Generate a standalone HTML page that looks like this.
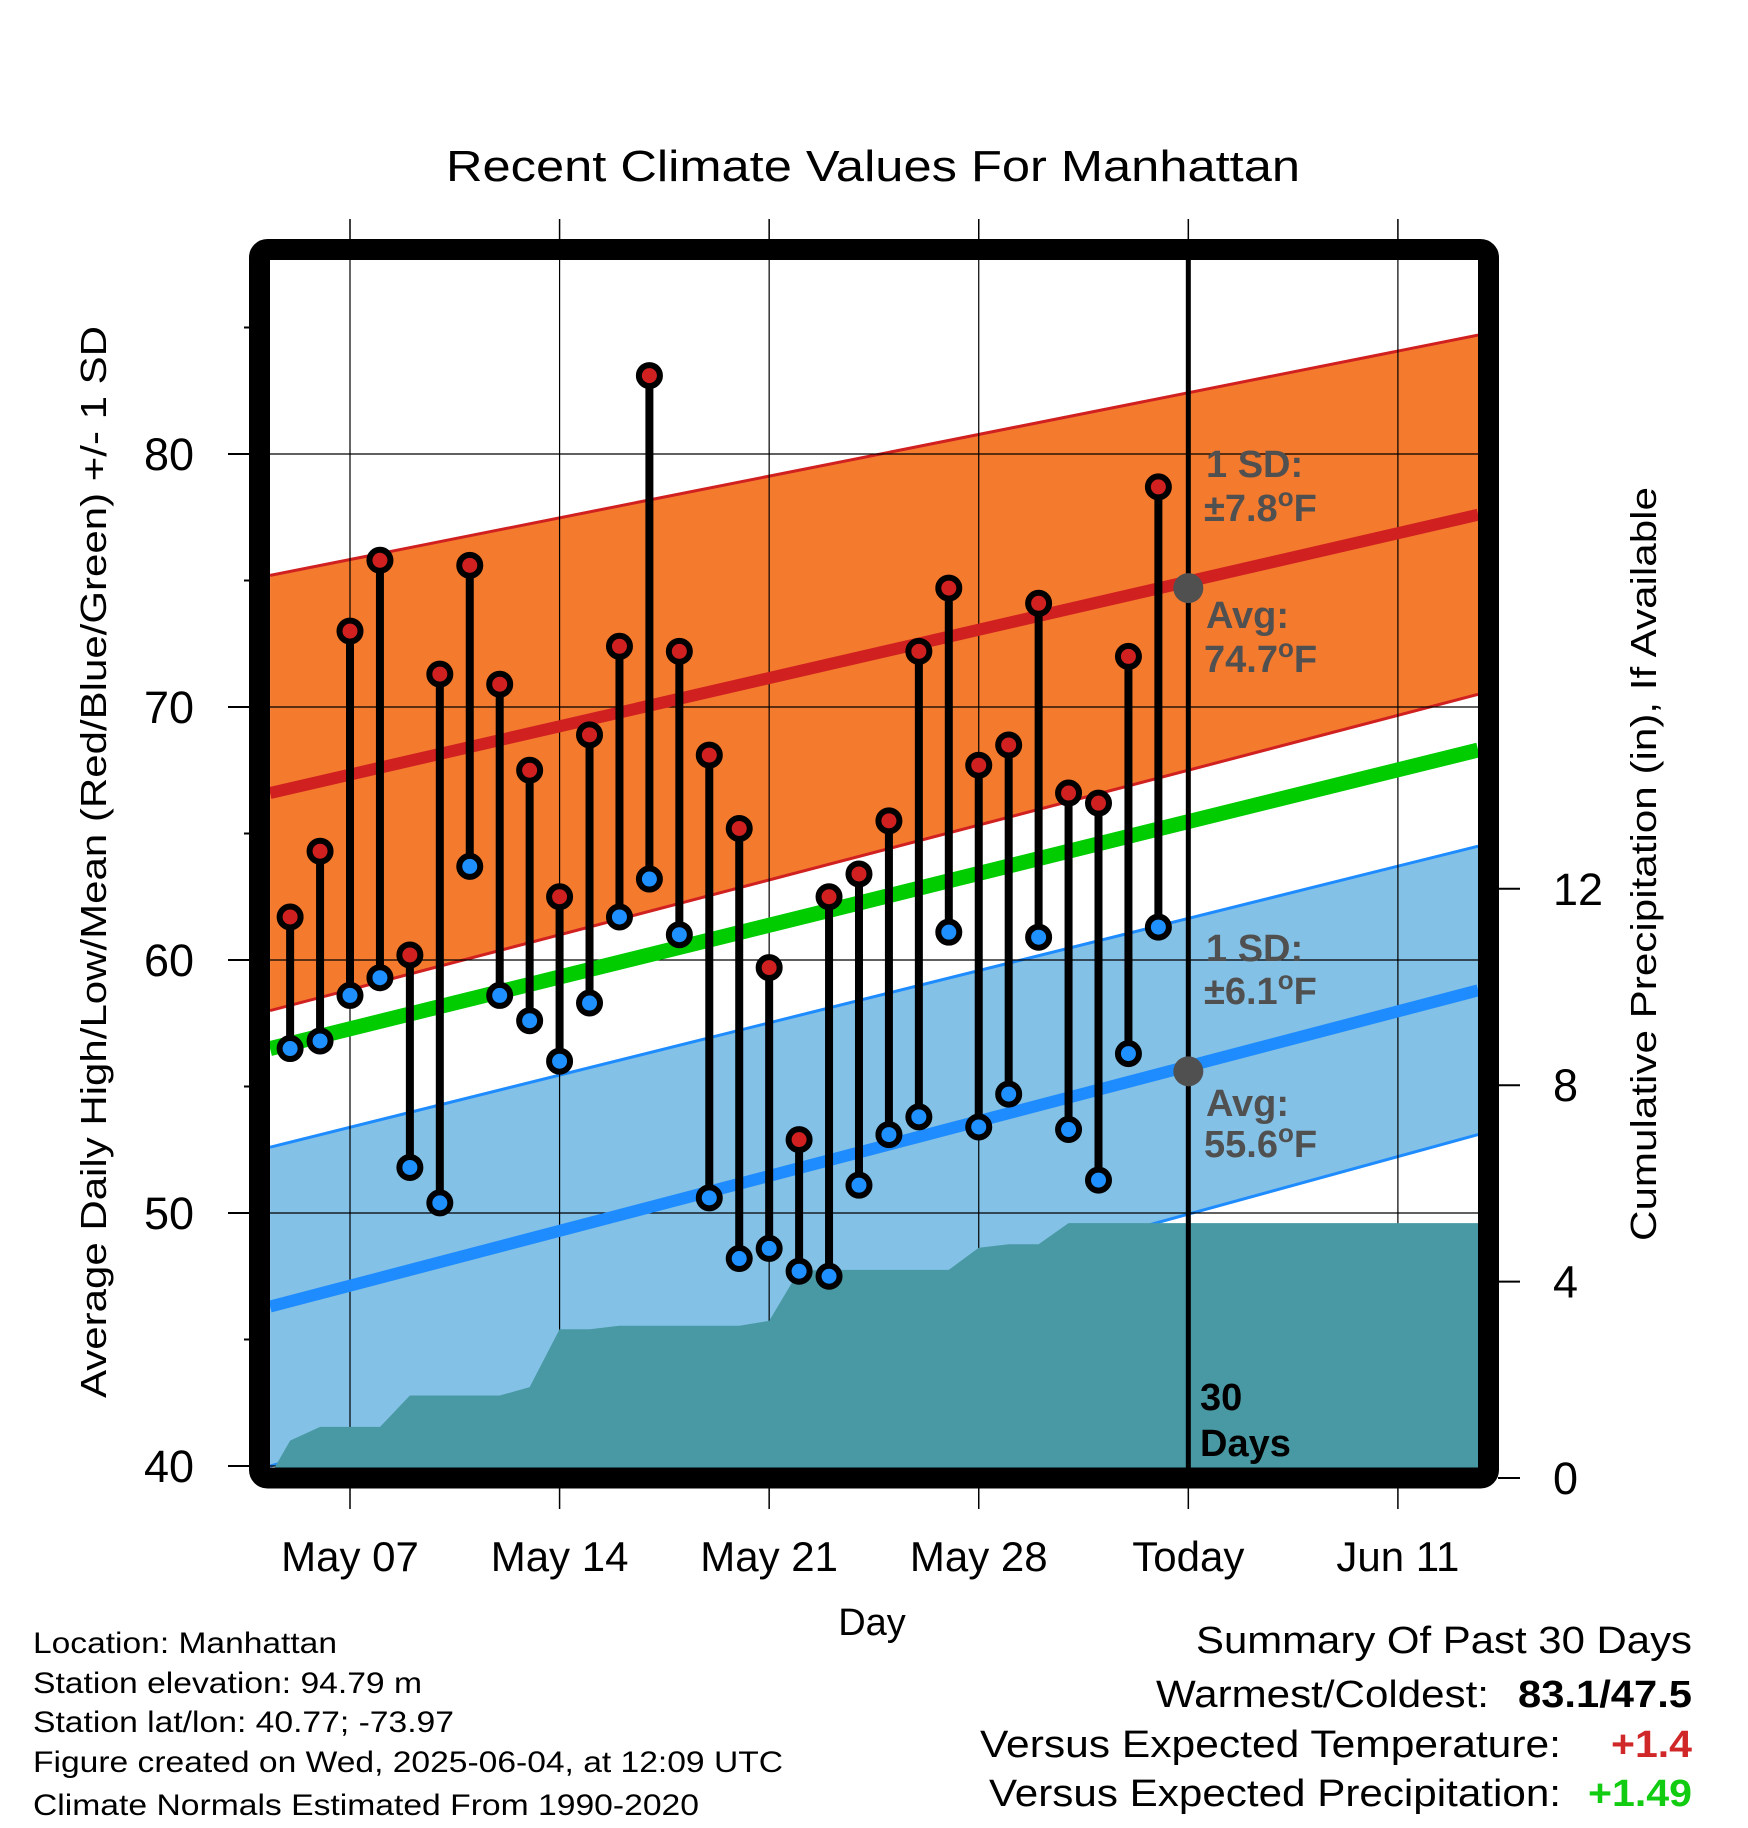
<!DOCTYPE html>
<html><head><meta charset="utf-8"><style>
html,body{margin:0;padding:0;background:#fff;}
svg{display:block;font-family:"Liberation Sans",Arial,sans-serif;}
</style></head><body>
<svg id="chart" width="1748" height="1828" viewBox="0 0 1748 1828" xmlns="http://www.w3.org/2000/svg">
<defs><clipPath id="plotclip"><rect x="270" y="260" width="1208" height="1208"/></clipPath></defs>
<g id="plot" clip-path="url(#plotclip)"></g>
<g id="overlay"></g>
<text x="873" y="181" font-size="44" text-anchor="middle" textLength="854" lengthAdjust="spacingAndGlyphs">Recent Climate Values For Manhattan</text>
<text transform="translate(106,862) rotate(-90)" font-size="36" text-anchor="middle" textLength="1072" lengthAdjust="spacingAndGlyphs">Average Daily High/Low/Mean (Red/Blue/Green) +/- 1 SD</text>
<text transform="translate(1656,864) rotate(-90)" font-size="36" text-anchor="middle" textLength="754" lengthAdjust="spacingAndGlyphs">Cumulative Precipitation (in), If Available</text>
<text x="872" y="1635" font-size="38" text-anchor="middle">Day</text>
<g font-size="30">
<text x="33" y="1653" textLength="304" lengthAdjust="spacingAndGlyphs">Location: Manhattan</text>
<text x="33" y="1693" textLength="389" lengthAdjust="spacingAndGlyphs">Station elevation: 94.79 m</text>
<text x="33" y="1732" textLength="421" lengthAdjust="spacingAndGlyphs">Station lat/lon: 40.77; -73.97</text>
<text x="33" y="1772" textLength="750" lengthAdjust="spacingAndGlyphs">Figure created on Wed, 2025-06-04, at 12:09 UTC</text>
<text x="33" y="1815" textLength="666" lengthAdjust="spacingAndGlyphs">Climate Normals Estimated From 1990-2020</text>
</g>
<g font-size="38">
<text x="1196" y="1653" textLength="496" lengthAdjust="spacingAndGlyphs">Summary Of Past 30 Days</text>
<text x="1156" y="1707" textLength="333" lengthAdjust="spacingAndGlyphs">Warmest/Coldest:</text>
<text x="1518" y="1707" font-weight="bold" textLength="174" lengthAdjust="spacingAndGlyphs">83.1/47.5</text>
<text x="980" y="1757" textLength="581" lengthAdjust="spacingAndGlyphs">Versus Expected Temperature:</text>
<text x="1611" y="1757" font-weight="bold" fill="#d02828" textLength="81" lengthAdjust="spacingAndGlyphs">+1.4</text>
<text x="989" y="1806" textLength="572" lengthAdjust="spacingAndGlyphs">Versus Expected Precipitation:</text>
<text x="1588" y="1806" font-weight="bold" fill="#11cc11" textLength="104" lengthAdjust="spacingAndGlyphs">+1.49</text>
</g>
</svg>
<script>
// ---- data ----
const days = ["May 05","May 06","May 07","May 08","May 09","May 10","May 11","May 12","May 13","May 14","May 15","May 16","May 17","May 18","May 19","May 20","May 21","May 22","May 23","May 24","May 25","May 26","May 27","May 28","May 29","May 30","May 31","Jun 01","Jun 02","Jun 03"];
const highs = [61.7,64.3,73.0,75.8,60.2,71.3,75.6,70.9,67.5,62.5,68.9,72.4,83.1,72.2,68.1,65.2,59.7,52.9,62.5,63.4,65.5,72.2,74.7,67.7,68.5,74.1,66.6,66.2,72.0,78.7];
const lows = [56.5,56.8,58.6,59.3,51.8,50.4,63.7,58.6,57.6,56.0,58.3,61.7,63.2,61.0,50.6,48.2,48.6,47.7,47.5,51.1,53.1,53.8,61.1,53.4,54.7,60.9,53.3,51.3,56.3,61.3];
const precip = [0.76,1.04,1.04,1.04,1.68,1.68,1.68,1.68,1.85,3.03,3.03,3.1,3.1,3.1,3.1,3.1,3.2,4.22,4.24,4.24,4.24,4.24,4.24,4.69,4.76,4.76,5.19,5.19,5.19,5.19];
const normDays = [-2.67, 37.68];
const avgHigh = [66.6, 77.6];
const sdHigh = [8.6, 7.1];
const avgMean = [56.5, 68.3];
const avgLow = [46.3, 58.8];
const sdLow = [6.3, 5.7];
const todayHigh = 74.7, todayLow = 55.6;
const xTickLabels = ["May 07","May 14","May 21","May 28","Today","Jun 11"];
const xTickDays = [0,7,14,21,28,35];
const yTicks = [40,50,60,70,80];
const yMinor = [45,55,65,75,85];
const pTicks = [0,4,8,12];

// ---- scales ----
const X = d => 350 + d*29.94;
const Y = v => 454 + (80 - v)*25.3;
const P = p => 1478 - p*49.1;
const NS = "http://www.w3.org/2000/svg";
function mk(tag, attrs, parent){ const e=document.createElementNS(NS,tag); for(const k in attrs) e.setAttribute(k,attrs[k]); parent.appendChild(e); return e; }
const plot = document.getElementById('plot');
const ov = document.getElementById('overlay');
const x0=X(normDays[0]), x1=X(normDays[1]);

// bands
function band(avg, sd, fill, edge, name){
  const p = [[x0,Y(avg[0]+sd[0])],[x1,Y(avg[1]+sd[1])],[x1,Y(avg[1]-sd[1])],[x0,Y(avg[0]-sd[0])]];
  const b = mk('polygon',{points:p.map(q=>q.join(',')).join(' '),fill:fill},plot);
  
  
  mk('line',{x1:x0,y1:Y(avg[0]+sd[0]),x2:x1,y2:Y(avg[1]+sd[1]),stroke:edge,'stroke-width':3},plot);
  mk('line',{x1:x0,y1:Y(avg[0]-sd[0]),x2:x1,y2:Y(avg[1]-sd[1]),stroke:edge,'stroke-width':3},plot);
}
band(avgLow, sdLow, '#84c1e6', '#1e8cff', 'low-band');
band(avgHigh, sdHigh, '#f47a2e', '#d02020', 'high-band');

// grid
yTicks.forEach(v=>mk('line',{x1:270,x2:1478,y1:Y(v),y2:Y(v),stroke:'#000','stroke-width':1.2},plot));
xTickDays.forEach(d=>mk('line',{x1:X(d),x2:X(d),y1:260,y2:1468,stroke:'#000','stroke-width':1.2},plot));

// precip area
let pts = [[X(-2.67),P(0)],[X(-2.67),P(0.05)]];
precip.forEach((p,i)=>pts.push([X(i-2),P(p)]));
pts.push([x1,P(precip[precip.length-1])],[x1,P(0)]);
const area = mk('polygon',{points:pts.map(p=>p.join(',')).join(' '),fill:'#4899a4'},plot);



// average lines
function avgLine(a, color, w, name){
  const l = mk('line',{x1:x0,y1:Y(a[0]),x2:x1,y2:Y(a[1]),stroke:color,'stroke-width':w},plot);
  
  
}
avgLine(avgHigh,'#d02020',12,'avg-high-line');
avgLine(avgMean,'#00cc00',15,'avg-mean-line');
avgLine(avgLow,'#1e8cff',12,'avg-low-line');

// today line
mk('line',{x1:X(28),x2:X(28),y1:260,y2:1468,stroke:'#000','stroke-width':5},plot);

// stems and dots
highs.forEach((h,i)=>{
  const x = X(i-2);
  const s = mk('line',{x1:x,x2:x,y1:Y(h),y2:Y(lows[i]),stroke:'#000','stroke-width':8},plot);
  
  
});
highs.forEach((h,i)=>{
  const x = X(i-2);
  const c1 = mk('circle',{cx:x,cy:Y(h),r:10.5,fill:'#d02020',stroke:'#000','stroke-width':6},plot);
  
  
  const c2 = mk('circle',{cx:x,cy:Y(lows[i]),r:10.5,fill:'#1e90ff',stroke:'#000','stroke-width':6},plot);
  
  
});
mk('circle',{cx:X(28),cy:Y(todayHigh),r:15,fill:'#505050'},plot);
mk('circle',{cx:X(28),cy:Y(todayLow),r:15,fill:'#505050'},plot);

// annotations
function ann(txt, x, y, color, size){
  const t = mk('text',{x:x,y:y,'font-size':size,'font-weight':'bold',fill:color},plot);
  t.innerHTML = txt;
  
  
}
const g='#505050', sup='<tspan dy="-15" font-size="26">o</tspan><tspan dy="15">F</tspan>';
ann('1 SD:',1206,477,g,38);
ann('±'+(7.8).toFixed(1)+sup,1204,521,g,38);
ann('Avg:',1206,628,g,38);
ann(todayHigh.toFixed(1)+sup,1204,672,g,38);
ann('1 SD:',1206,961,g,38);
ann('±'+(6.1).toFixed(1)+sup,1204,1004,g,38);
ann('Avg:',1206,1116,g,38);
ann(todayLow.toFixed(1)+sup,1204,1157,g,38);
ann('30',1200,1410,'#000',38);
ann('Days',1200,1456,'#000',38);

// frame
const fr = mk('rect',{x:259.5,y:249.5,width:1229,height:1228.5,fill:'none',stroke:'#000','stroke-width':21,rx:8},ov);



yTicks.forEach(v=>{
  mk('line',{x1:228,x2:250,y1:Y(v),y2:Y(v),stroke:'#000','stroke-width':2},ov);
  const t = mk('text',{x:194,y:Y(v)+16,'font-size':45,'text-anchor':'end'},ov);
  t.textContent = v;
  
  
});
yMinor.forEach(v=>mk('line',{x1:244,x2:250,y1:Y(v),y2:Y(v),stroke:'#000','stroke-width':2},ov));
pTicks.forEach(p=>{
  mk('line',{x1:1498,x2:1520,y1:P(p),y2:P(p),stroke:'#000','stroke-width':2},ov);
  const t = mk('text',{x:1553,y:P(p)+16,'font-size':45},ov);
  t.textContent = p;
  
  
});
xTickDays.forEach((d,i)=>{
  mk('line',{x1:X(d),x2:X(d),y1:219,y2:240,stroke:'#000','stroke-width':1.5},ov);
  mk('line',{x1:X(d),x2:X(d),y1:1488,y2:1509,stroke:'#000','stroke-width':1.5},ov);
  const t = mk('text',{x:X(d),y:1571,'font-size':42,'text-anchor':'middle'},ov);
  t.textContent = xTickLabels[i];
  
  
});
</script>
</body></html>
